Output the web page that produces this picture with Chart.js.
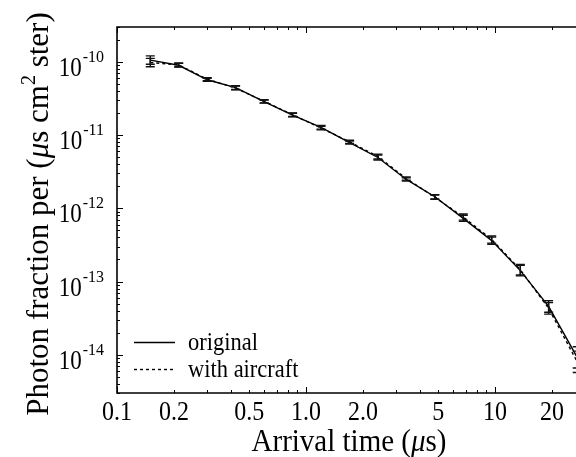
<!DOCTYPE html>
<html>
<head>
<meta charset="utf-8">
<script src="https://cdn.jsdelivr.net/npm/chart.js@4.4.1/dist/chart.umd.min.js"></script>
<style>
  html, body { margin: 0; padding: 0; background: #fff; overflow: hidden; }
  canvas { display: block; }
</style>
</head>
<body>
<canvas id="chart" width="576" height="457"></canvas>
<script>
// arrival time (us)
const arrivalTime = [0.15, 0.212, 0.30, 0.424, 0.60, 0.849, 1.2, 1.70, 2.4, 3.39, 4.8, 6.79, 9.6, 13.6, 19.2, 27.2]
// photon fraction per (us cm^2 ster)
const originalFlux = [1.06e-10, 9.0e-11, 5.7e-11, 4.45e-11, 2.87e-11, 1.88e-11, 1.28e-11, 7.9e-12, 4.95e-12, 2.48e-12, 1.44e-12, 7.3e-13, 3.62e-13, 1.41e-13, 4.57e-14, 9.2e-15]
const aircraftFlux = [0.98e-10, 9.1e-11, 5.8e-11, 4.4e-11, 2.9e-11, 1.9e-11, 1.25e-11, 8.1e-12, 5.1e-12, 2.55e-12, 1.42e-12, 7.6e-13, 3.75e-13, 1.45e-13, 4.3e-14, 8.0e-15]
// relative error bar size
const relError = [0.14, 0.06, 0.05, 0.06, 0.05, 0.06, 0.06, 0.05, 0.08, 0.05, 0.07, 0.10, 0.12, 0.18, 0.20, 0.40]

const xTickValues = [0.1, 0.2, 0.5, 1, 2, 5, 10, 20]
const xTickLabels = ['0.1', '0.2', '0.5', '1.0', '2.0', '5', '10', '20']
const yDecades = [-10, -11, -12, -13, -14]

const SERIF = '"Liberation Serif", "DejaVu Serif", serif'

function minorValues(lo, hi) {
  const out = []
  for (let e = Math.floor(Math.log10(lo)); e <= Math.ceil(Math.log10(hi)); e++) {
    for (let m = 1; m < 10; m++) {
      const v = m * Math.pow(10, e)
      if (v >= lo * 0.999 && v <= hi * 1.001) out.push({ v, major: m === 1 })
    }
  }
  return out
}

// text slightly taller than wide, like the scanned figure
function tallText(ctx, text, x, y, stretch = 1.1) {
  ctx.save()
  ctx.translate(x, y)
  ctx.scale(1, stretch)
  ctx.fillText(text, 0, 0)
  ctx.restore()
}

const decorPlugin = {
  id: 'decor',
  afterDatasetsDraw(chart) {
    const ctx = chart.ctx
    const xs = chart.scales.x
    const ys = chart.scales.y

    // error bars
    ctx.save()
    ctx.strokeStyle = '#111'
    ctx.lineWidth = 1.4
    ;[originalFlux, aircraftFlux].forEach((series) => {
      series.forEach((v, i) => {
        const px = xs.getPixelForValue(arrivalTime[i])
        const top = ys.getPixelForValue(v * (1 + relError[i]))
        const bot = ys.getPixelForValue(v / (1 + relError[i]))
        ctx.beginPath()
        ctx.moveTo(px, top); ctx.lineTo(px, bot)
        ctx.moveTo(px - 4.5, top); ctx.lineTo(px + 4.5, top)
        ctx.moveTo(px - 4.5, bot); ctx.lineTo(px + 4.5, bot)
        ctx.stroke()
      })
    })
    ctx.restore()
  },
  afterDraw(chart) {
    const ctx = chart.ctx
    const area = chart.chartArea
    const xs = chart.scales.x
    const ys = chart.scales.y

    ctx.save()
    ctx.strokeStyle = '#000'
    ctx.lineWidth = 1.6
    ctx.beginPath()
    ctx.moveTo(area.right + 5, area.top)
    ctx.lineTo(area.left, area.top)
    ctx.lineTo(area.left, area.bottom)
    ctx.lineTo(area.right + 5, area.bottom)
    ctx.stroke()

    // ticks pointing inward
    ctx.lineWidth = 1
    minorValues(xs.min, xs.max).forEach(({ v, major }) => {
      const px = Math.round(xs.getPixelForValue(v)) + 0.5
      const len = major ? 6 : 3
      ctx.beginPath()
      ctx.moveTo(px, area.bottom); ctx.lineTo(px, area.bottom - len)
      ctx.moveTo(px, area.top); ctx.lineTo(px, area.top + len)
      ctx.stroke()
    })
    minorValues(ys.min, ys.max).forEach(({ v, major }) => {
      const py = Math.round(ys.getPixelForValue(v)) + 0.5
      const len = major ? 6 : 3
      ctx.beginPath()
      ctx.moveTo(area.left, py); ctx.lineTo(area.left + len, py)
      ctx.stroke()
    })

    // x tick labels
    ctx.fillStyle = '#000'
    ctx.font = `24px ${SERIF}`
    ctx.textAlign = 'center'
    ctx.textBaseline = 'alphabetic'
    xTickValues.forEach((v, i) => {
      tallText(ctx, xTickLabels[i], xs.getPixelForValue(v), 420, 1.1)
    })

    // y tick labels as 10^n
    yDecades.forEach((e) => {
      const py = ys.getPixelForValue(Math.pow(10, e))
      ctx.font = `16px ${SERIF}`
      const sup = String(e)
      const supW = ctx.measureText(sup).width
      ctx.textAlign = 'right'
      tallText(ctx, sup, 104, py, 1.1)
      ctx.font = `23px ${SERIF}`
      tallText(ctx, '10', 104 - supW - 1, py + 14, 1.15)
    })

    // x title
    const xParts = [['Arrival time (', 'normal'], ['\u03bc', 'italic'], ['s)', 'normal']]
    let total = 0
    xParts.forEach(([t, st]) => { ctx.font = `${st} 29px ${SERIF}`; total += ctx.measureText(t).width })
    let cx = 349 - total / 2
    ctx.textAlign = 'left'
    xParts.forEach(([t, st]) => {
      ctx.font = `${st} 29px ${SERIF}`
      tallText(ctx, t, cx, 451, 1.06)
      cx += ctx.measureText(t).width
    })

    // y title, rotated
    const yParts = [
      ['Photon fraction per (', 'normal', 31, 0],
      ['\u03bc', 'italic', 31, 0],
      ['s cm', 'normal', 31, 0],
      ['2', 'normal', 20, -13],
      [' ster)', 'normal', 31, 0],
    ]
    let ytot = 0
    yParts.forEach(([t, st, sz]) => { ctx.font = `${st} ${sz}px ${SERIF}`; ytot += ctx.measureText(t).width })
    ctx.save()
    ctx.translate(48, 214)
    ctx.rotate(-Math.PI / 2)
    let cy = -ytot / 2
    yParts.forEach(([t, st, sz, dy]) => {
      ctx.font = `${st} ${sz}px ${SERIF}`
      ctx.fillText(t, cy, dy)
      cy += ctx.measureText(t).width
    })
    ctx.restore()

    // legend
    ctx.lineWidth = 1.4
    ctx.beginPath()
    ctx.moveTo(134, 342.5); ctx.lineTo(175, 342.5)
    ctx.stroke()
    ctx.setLineDash([3, 3])
    ctx.beginPath()
    ctx.moveTo(134, 369.5); ctx.lineTo(175, 369.5)
    ctx.stroke()
    ctx.setLineDash([])
    ctx.font = `22.5px ${SERIF}`
    ctx.textAlign = 'left'
    tallText(ctx, 'original', 188, 350, 1.08)
    tallText(ctx, 'with aircraft', 188, 377, 1.08)
    ctx.restore()
  },
}

const ctx = document.getElementById('chart').getContext('2d')
new Chart(ctx, {
  type: 'line',
  data: {
    datasets: [
      {
        label: 'original',
        data: arrivalTime.map((x, i) => ({ x, y: originalFlux[i] })),
        borderColor: '#000',
        borderWidth: 1.4,
        pointRadius: 0,
        tension: 0,
        fill: false,
      },
      {
        label: 'with aircraft',
        data: arrivalTime.map((x, i) => ({ x, y: aircraftFlux[i] })),
        borderColor: '#000',
        borderWidth: 1.4,
        borderDash: [3, 3],
        pointRadius: 0,
        tension: 0,
        fill: false,
      },
    ],
  },
  options: {
    responsive: false,
    animation: false,
    devicePixelRatio: 1,
    layout: { padding: { left: 117, top: 27, right: 0, bottom: 64 } },
    scales: {
      x: { type: 'logarithmic', min: 0.1, max: 26.8, display: false },
      y: { type: 'logarithmic', min: 3e-15, max: 3e-10, display: false },
    },
    plugins: { legend: { display: false }, tooltip: { enabled: false } },
  },
  plugins: [decorPlugin],
})
</script>
</body>
</html>
